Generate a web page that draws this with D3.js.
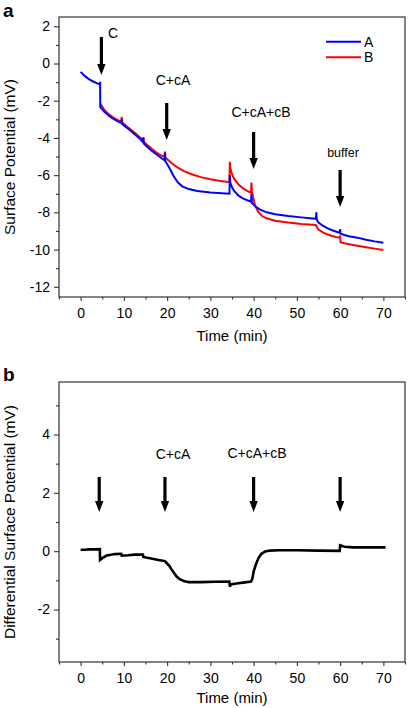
<!DOCTYPE html>
<html><head><meta charset="utf-8">
<script src="https://cdn.jsdelivr.net/npm/d3@7"></script>
<style>body{margin:0;background:#fff}svg{display:block;font-family:"Liberation Sans",Arial,sans-serif}</style>
</head><body><svg id="c" width="410" height="708"></svg>
<script>
// Panel a data: [time(min), potential(mV)]
const seriesA = [
[0,-0.45],[1,-0.68],[2,-0.85],[3,-0.98],[4,-1.08],[4.45,-1.12],[4.5,-0.98],[4.55,-2.35],
[5.5,-2.6],[6.5,-2.8],[7.5,-2.97],[8.5,-3.1],[9.4,-3.2],[9.5,-3.0],[9.6,-3.25],
[10.5,-3.42],[11.5,-3.6],[12.5,-3.8],[13.5,-4.0],[14.4,-4.22],[14.5,-3.97],[14.6,-4.3],
[15.5,-4.5],[16.5,-4.7],[17.5,-4.88],[18.5,-5.05],[19.4,-5.2],[19.5,-4.8],[19.6,-5.25],
[20.5,-5.6],[21.5,-6.05],[22.5,-6.4],[23.5,-6.6],[25,-6.75],[27,-6.85],[30,-6.93],[34.4,-7.0],[34.5,-6.0],[34.6,-6.4],
[35,-6.65],[35.5,-6.85],[36.5,-7.1],[37.5,-7.25],[38.5,-7.35],[39.4,-7.42],[39.5,-7.0],[39.6,-7.5],
[40.5,-7.7],[41.5,-7.85],[43,-8.0],[45,-8.1],[48,-8.2],[51,-8.27],[54.4,-8.35],[54.5,-8.0],[54.6,-8.4],
[55,-8.55],[56,-8.72],[57,-8.85],[58,-8.95],[59,-9.03],[59.9,-9.1],[60,-8.9],[60.1,-9.15],
[61,-9.22],[62,-9.28],[64,-9.36],[66,-9.47],[68,-9.56],[70,-9.63]
];
const seriesB = [
[4.55,-2.15],[5.5,-2.5],[6.5,-2.72],[7.5,-2.9],[8.5,-3.03],[9.4,-3.12],[9.5,-2.86],[9.6,-3.15],
[10.5,-3.35],[11.5,-3.53],[12.5,-3.72],[13.5,-3.92],[14.4,-4.12],[14.5,-3.97],[14.6,-4.2],
[15.5,-4.4],[16.5,-4.6],[17.5,-4.78],[18.5,-4.93],[19.4,-5.02],[19.5,-4.74],[19.6,-5.05],
[21,-5.35],[22.5,-5.6],[24,-5.8],[26,-5.98],[28,-6.12],[30,-6.22],[32,-6.3],[34.4,-6.38],[34.5,-5.28],[34.6,-5.6],
[35,-5.95],[35.5,-6.2],[36.5,-6.5],[37.5,-6.7],[38.5,-6.85],[39.4,-6.95],[39.5,-6.4],[39.6,-6.9],
[40,-7.3],[40.3,-7.6],[41,-7.95],[42,-8.2],[43,-8.32],[45,-8.45],[48,-8.55],[51,-8.62],[54.4,-8.68],[54.5,-8.75],
[55,-8.92],[56,-9.08],[57,-9.18],[58,-9.26],[59,-9.32],[59.9,-9.36],[60,-9.25],[60.1,-9.6],
[61,-9.66],[62,-9.71],[64,-9.8],[66,-9.88],[68,-9.95],[70,-10.02]
];
// Panel b data: differential potential
const seriesDiff = [
[0,0.05],[1,0.05],[2,0.06],[3,0.06],[4.45,0.07],[4.5,-0.3],[5,-0.24],[6,-0.15],[7,-0.12],[8,-0.1],[9.4,-0.09],[9.5,-0.15],
[11,-0.14],[12.5,-0.12],[14.4,-0.12],[14.5,-0.2],[16,-0.24],[18,-0.3],[19.5,-0.34],[20.5,-0.5],[21.4,-0.71],
[22.2,-0.87],[22.9,-0.96],[24,-1.03],[25,-1.06],[28,-1.06],[31,-1.05],[34.4,-1.04],[34.5,-1.22],[34.7,-1.14],
[36,-1.11],[38,-1.07],[39.4,-1.04],[39.7,-0.95],[40,-0.7],[40.6,-0.42],[41.2,-0.22],[41.8,-0.09],[42.7,-0.01],[43.7,0.02],
[46,0.03],[50,0.03],[55,0.02],[59.9,0.01],[60,0.2],[61,0.15],[63,0.13],[66,0.13],[70.5,0.13]
];
const xTicks = [0,10,20,30,40,50,60,70];
const yTicksA = [2,0,-2,-4,-6,-8,-10,-12];
const yTicksB = [4,2,0,-2];
const legendNames = ["A","B"];
const colors = ["#0000ff","#ff0000"];
const arrowsA = [{t:4.8,y0:37,y1:75,label:"C"},{t:19.9,y0:103,y1:140,label:"C+cA"},{t:40,y0:132,y1:169,label:"C+cA+cB"},{t:60,y0:170,y1:207,label:"buffer"}];
const arrowsB = [4.3,19.5,40,60];

const svg = d3.select("#c");
const L=59,R=405;
const x = d3.scaleLinear().domain([-5,75]).range([L,R]);

function frame(g, y, top, bottom, yTicks, yMinor){
  g.append("rect").attr("x",L).attr("y",top).attr("width",R-L).attr("height",bottom-top)
   .attr("fill","none").attr("stroke","#333").attr("stroke-width",1.2);
  const xa = g.append("g").attr("transform",`translate(0,${bottom})`)
   .call(d3.axisBottom(x).tickValues(xTicks).tickSize(4).tickPadding(7).tickFormat(d3.format("d")));
  const xm = g.append("g").attr("transform",`translate(0,${bottom})`)
   .call(d3.axisBottom(x).tickValues(xTicks.map(d=>d+5).concat([-5])).tickSize(2.5).tickFormat(""));
  const ya = g.append("g").attr("transform",`translate(${L},0)`)
   .call(d3.axisLeft(y).tickValues(yTicks).tickSize(5).tickPadding(4).tickFormat(d=>d3.format("d")(d).replace("−","-")));
  const ym = g.append("g").attr("transform",`translate(${L},0)`)
   .call(d3.axisLeft(y).tickValues(yMinor).tickSize(3).tickFormat(""));
  [xa,xm,ya,ym].forEach(a=>{a.select(".domain").remove();a.selectAll("line").attr("stroke","#333").attr("stroke-width",1.1);
    a.selectAll("text").attr("font-size",14).attr("fill","#000").attr("font-family","Liberation Sans, Arial, sans-serif");});
}
function arrow(g, xp, y0, y1){
  const hw=4.2, hl=11;
  g.append("line").attr("x1",xp).attr("x2",xp).attr("y1",y0).attr("y2",y1-hl+1).attr("stroke","#000").attr("stroke-width",3.2);
  g.append("path").attr("d",`M${xp-hw},${y1-hl}L${xp+hw},${y1-hl}L${xp},${y1}Z`).attr("fill","#000");
}

// Panel a
const ya = d3.scaleLinear().domain([-12.55,2.5]).range([297,17]);
const ga = svg.append("g");
frame(ga, ya, 17, 297, yTicksA, [1,-1,-3,-5,-7,-9,-11]);
const line = s => d3.line().x(d=>x(d[0])).y(d=>s(d[1]));
ga.append("path").datum(seriesB).attr("d",line(ya)).attr("fill","none").attr("stroke",colors[1]).attr("stroke-width",2);
ga.append("path").datum(seriesA).attr("d",line(ya)).attr("fill","none").attr("stroke",colors[0]).attr("stroke-width",2);
arrowsA.forEach(a=>arrow(ga, x(a.t), a.y0, a.y1));
ga.append("text").attr("x",108).attr("y",38).attr("font-size",14).text("C");
ga.append("text").attr("x",173).attr("y",85).attr("font-size",14).attr("text-anchor","middle").text("C+cA");
ga.append("text").attr("x",261).attr("y",117).attr("font-size",14).attr("text-anchor","middle").text("C+cA+cB");
ga.append("text").attr("x",343).attr("y",157).attr("font-size",12.5).attr("text-anchor","middle").text("buffer");
legendNames.forEach((n,i)=>{
  const yy = 41.7 + i*15.6;
  ga.append("line").attr("x1",326).attr("x2",361).attr("y1",yy).attr("y2",yy).attr("stroke",colors[i]).attr("stroke-width",2);
  ga.append("text").attr("x",364).attr("y",yy+5).attr("font-size",14).text(n);
});
ga.append("text").attr("x",232).attr("y",341).attr("font-size",15).attr("text-anchor","middle").text("Time (min)");
ga.append("text").attr("transform","translate(15,157) rotate(-90)").attr("font-size",15.5).attr("text-anchor","middle").text("Surface Potential (mV)");
svg.append("text").attr("x",3).attr("y",17).attr("font-size",19).attr("font-weight","bold").text("a");

// Panel b
const yb = d3.scaleLinear().domain([-3.8,5.8]).range([662,382]);
const gb = svg.append("g");
frame(gb, yb, 382, 662, yTicksB, [5,3,1,-1,-3]);
gb.append("path").datum(seriesDiff).attr("d",line(yb)).attr("fill","none").attr("stroke","#000").attr("stroke-width",2.6);
arrowsB.forEach(t=>arrow(gb, x(t), 477, 512));
gb.append("text").attr("x",173).attr("y",459).attr("font-size",14).attr("text-anchor","middle").text("C+cA");
gb.append("text").attr("x",257).attr("y",458).attr("font-size",14).attr("text-anchor","middle").text("C+cA+cB");
gb.append("text").attr("x",232).attr("y",703).attr("font-size",15).attr("text-anchor","middle").text("Time (min)");
gb.append("text").attr("transform","translate(15,522) rotate(-90)").attr("font-size",15.5).attr("text-anchor","middle").text("Differential Surface Potential (mV)");
svg.append("text").attr("x",3).attr("y",381).attr("font-size",19).attr("font-weight","bold").text("b");
</script></body></html>
